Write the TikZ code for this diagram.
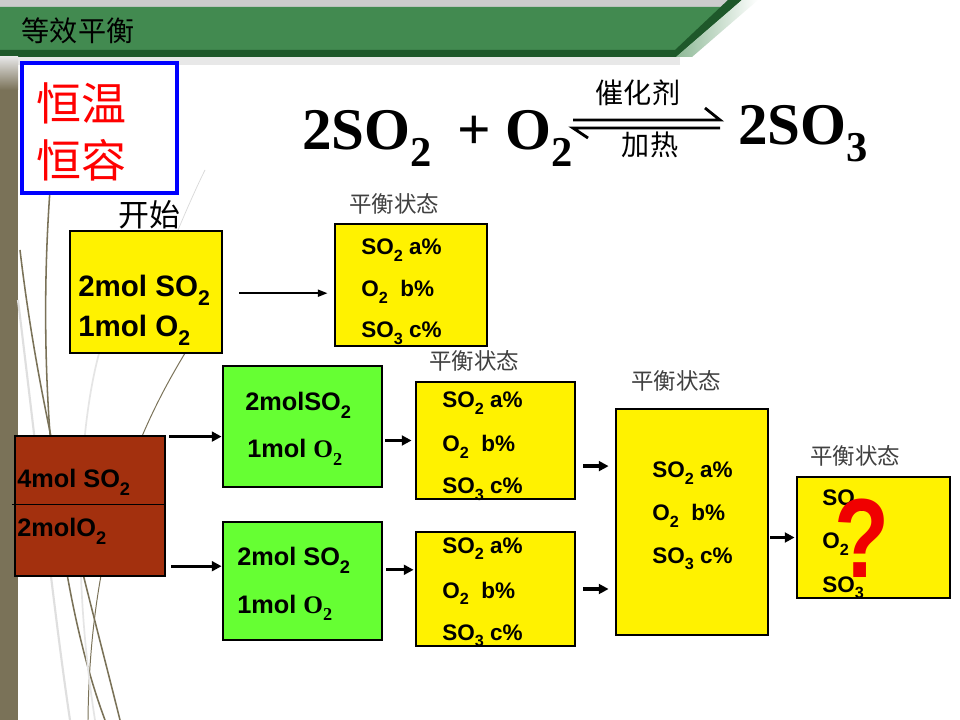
\documentclass[tikz,border=0pt]{standalone}
\usepackage{fontspec}
\usepackage{graphicx}
\setmainfont{Liberation Serif}
\setsansfont{Liberation Sans}
\newfontfamily\cjk{Noto Sans CJK SC}
\usetikzlibrary{arrows.meta}

\definecolor{hdrgreen}{RGB}{66,138,80}
\definecolor{hdrdark}{RGB}{30,88,42}
\definecolor{olive}{RGB}{122,114,88}
\definecolor{brick}{RGB}{163,48,14}
\definecolor{lime}{RGB}{102,255,51}
\definecolor{qred}{RGB}{240,0,0}

\newcommand\pxu{0.025cm}
\newcommand\subs[1]{\raisebox{-0.28em}{\scalebox{0.72}{#1}}}

\tikzset{
  box/.style={draw, line width=2pt, inner sep=0pt},
  ybox/.style={box, fill=yellow},
  gbox/.style={box, fill=lime},
  item/.style={anchor=base west, inner sep=0pt, font=\sffamily\bfseries\fontsize{16}{16}\selectfont},
  bigitem/.style={item, font=\sffamily\bfseries\fontsize{21}{21}\selectfont},
  miditem/.style={item, font=\sffamily\bfseries\fontsize{18}{18}\selectfont},
  state/.style={inner sep=0pt, text=black!75, font=\cjk\fontsize{16}{16}\selectfont},
  arr/.style={-{Triangle[length=7pt,width=7pt]}, line width=2.4pt},
  thinarr/.style={-{Triangle[length=7pt,width=5pt]}, line width=1.4pt},
}

\begin{document}
\begin{tikzpicture}[x=0.025cm,y=-0.025cm]

  % page frame, one unit is one pixel of the slide
  \useasboundingbox (0,0) rectangle (960,720);
  \fill[white] (0,0) rectangle (960,720);

  % title bar
  \fill[gray!40] (0,0) -- (742,0) -- (733,8) -- (0,8) -- cycle;
  \fill[hdrgreen] (0,7) -- (734,7) -- (676,57) -- (0,57) -- cycle;
  \fill[hdrdark] (0,50) -- (684,50) -- (676,57) -- (0,57) -- cycle;
  \fill[hdrdark] (728,0) -- (742,0) -- (684,50) -- (676,57) -- (675,50) -- cycle;
  \shade[left color=hdrgreen!60, right color=white] (742,0) -- (758,0) -- (692,57) -- (676,57) -- cycle;
  \fill[gray!18] (0,57) rectangle (680,65);
  \node[inner sep=0pt, font=\cjk\fontsize{20}{20}\selectfont] (title) at (78,31) {等效平衡};

  % left strip and thin curves
  \shade[top color=gray!20, bottom color=olive] (0,57) rectangle (18,90);
  \fill[olive] (0,90) rectangle (18,720);
  \draw[olive, line width=1.1pt] (50,190) .. controls (35,400) and (60,600) .. (105,720);
  \draw[olive, line width=1.1pt] (20,250) .. controls (40,420) and (80,560) .. (120,720);
  \draw[gray!25, line width=1.5pt] (18,300) .. controls (40,480) and (55,620) .. (70,720);
  \draw[olive, line width=0.7pt] (190,345) .. controls (150,410) and (90,520) .. (88,720);
  \draw[gray!20, line width=1.2pt] (100,350) .. controls (80,420) and (70,560) .. (95,720);
  \draw[gray!30, line width=0.5pt] (205,170) .. controls (190,200) and (165,260) .. (150,300);

  % conditions
  \node[draw=blue, line width=2.6pt, minimum width=155*\pxu, minimum height=130*\pxu, inner sep=0pt, fill=white] (cond) at (99.5,128) {};
  \node[inner sep=0pt, text=red, font=\cjk\fontsize{32}{32}\selectfont] (cond1) at (81,103) {恒温};
  \node[inner sep=0pt, text=red, font=\cjk\fontsize{32}{32}\selectfont] (cond2) at (81,160) {恒容};

  % reaction
  \node[anchor=base west, inner sep=0pt, font=\bfseries\fontsize{42}{42}\selectfont] (lhs) at (302,150) {2SO\subs{2}};
  \node[anchor=base west, inner sep=0pt, font=\bfseries\fontsize{42}{42}\selectfont] (oxy) at (457,150) {+ O\subs{2}};
  \node[anchor=base west, inner sep=0pt, font=\bfseries\fontsize{42}{42}\selectfont] (rhs) at (738,145) {2SO\subs{3}};
  \coordinate (hl) at (573,124);
  \coordinate (hr) at (720,124);
  \draw[line width=2pt] ([yshift=0.1cm]hl) -- ([yshift=0.1cm]hr) -- ++(-15,-12);
  \draw[line width=2pt] ([yshift=-0.1cm]hr) -- ([yshift=-0.1cm]hl) -- ++(15,10);
  \node[inner sep=0pt, font=\cjk\fontsize{20}{20}\selectfont] (cat) at (638,93) {催化剂};
  \node[inner sep=0pt, font=\cjk\fontsize{20}{20}\selectfont] (heat) at (650,145) {加热};

  % first route
  \node[inner sep=0pt, font=\cjk\fontsize{22}{22}\selectfont] (start) at (149,215) {开始};
  \node[ybox, minimum width=152*\pxu, minimum height=122*\pxu] (A) at (146,292) {};
  \node[bigitem] (a1) at (78,297) {2mol SO\subs{2}};
  \node[bigitem] (a2) at (78,337) {1mol O\subs{2}};
  \node[state] (sB) at (394,204) {平衡状态};
  \node[ybox, minimum width=152*\pxu, minimum height=122*\pxu] (B) at (411,285) {};
  \node[item] (b1) at (361,255) {SO\subs{2} a\%};
  \node[item] (b2) at (361,297) {O\subs{2}\ \ b\%};
  \node[item] (b3) at (361,338) {SO\subs{3} c\%};
  \draw[thinarr, shorten <=16*\pxu, shorten >=6*\pxu] ([yshift=-0.03cm]A.east) -- ([yshift=-0.03cm]A.east -| B.west);

  % second route
  \node[box, fill=brick, minimum width=150*\pxu, minimum height=140*\pxu] (M) at (90,506) {};
  \draw[line width=0.6pt] (12,504) -- (M.east |- 0,504);
  \node[miditem] (m1) at (17,488) {4mol SO\subs{2}};
  \node[miditem] (m2) at (17,537) {2molO\subs{2}};

  \node[gbox, minimum width=159*\pxu, minimum height=121*\pxu] (G) at (302.5,426.5) {};
  \node[miditem] (g1) at (245,411) {2molSO\subs{2}};
  \node[miditem] (g2) at (247,458) {1mol {\rmfamily O\subs{2}}};
  \node[gbox, minimum width=159*\pxu, minimum height=118*\pxu] (H) at (302.5,581) {};
  \node[miditem] (h1) at (237,566) {2mol SO\subs{2}};
  \node[miditem] (h2) at (237,613) {1mol {\rmfamily O\subs{2}}};

  \node[state] (sC) at (474,361) {平衡状态};
  \node[ybox, minimum width=159*\pxu, minimum height=117*\pxu] (C) at (495.5,440.5) {};
  \node[item] (c1) at (442,408) {SO\subs{2} a\%};
  \node[item] (c2) at (442,452) {O\subs{2}\ \ b\%};
  \node[item] (c3) at (442,494) {SO\subs{3} c\%};
  \node[ybox, minimum width=159*\pxu, minimum height=114*\pxu] (D) at (495.5,589) {};
  \node[item] (d1) at (442,553) {SO\subs{2} a\%};
  \node[item] (d2) at (442,598) {O\subs{2}\ \ b\%};
  \node[item] (d3) at (442,640) {SO\subs{3} c\%};

  \node[state] (sE) at (676,381) {平衡状态};
  \node[ybox, minimum width=152*\pxu, minimum height=226*\pxu] (E) at (692,522) {};
  \node[item] (e1) at (652,478) {SO\subs{2} a\%};
  \node[item] (e2) at (652,521) {O\subs{2}\ \ b\%};
  \node[item] (e3) at (652,563) {SO\subs{3} c\%};

  \node[state] (sF) at (855,456) {平衡状态};
  \node[ybox, minimum width=153*\pxu, minimum height=121*\pxu] (F) at (873.5,537.5) {};
  \node[item] (f1) at (822,505) {SO\subs{2}};
  \node[item] (f2) at (822,549) {O\subs{2}};
  \node[item] (f3) at (822,592) {SO\subs{3}};
  \node[inner sep=0pt, text=qred, font=\sffamily\bfseries\fontsize{80}{80}\selectfont] (ask) at (862,538) {\scalebox{0.8}[1]{?}};

  % arrows
  \draw[arr, shorten <=3*\pxu] ([yshift=-0.05cm]M.north east) -- ([yshift=-0.05cm]M.north east -| G.west);
  \draw[arr, shorten <=5*\pxu] ([yshift=0.28cm]M.south east) -- ([yshift=0.28cm]M.south east -| H.west);
  \draw[arr, shorten <=2*\pxu, shorten >=3*\pxu] (G.east |- C.west) -- (C.west);
  \draw[arr, shorten <=3*\pxu, shorten >=1*\pxu] ([yshift=0.28cm]H.east) -- ([yshift=0.28cm]H.east -| D.west);
  \draw[arr, shorten <=7*\pxu, shorten >=6*\pxu] ([yshift=-0.64cm]C.east) -- ([yshift=-0.64cm]C.east -| E.west);
  \draw[arr, shorten <=7*\pxu, shorten >=6*\pxu] (D.east) -- (D.east -| E.west);
  \draw[arr, shorten <=1*\pxu, shorten >=1*\pxu] (E.east |- F.west) -- (F.west);

\end{tikzpicture}
\end{document}
